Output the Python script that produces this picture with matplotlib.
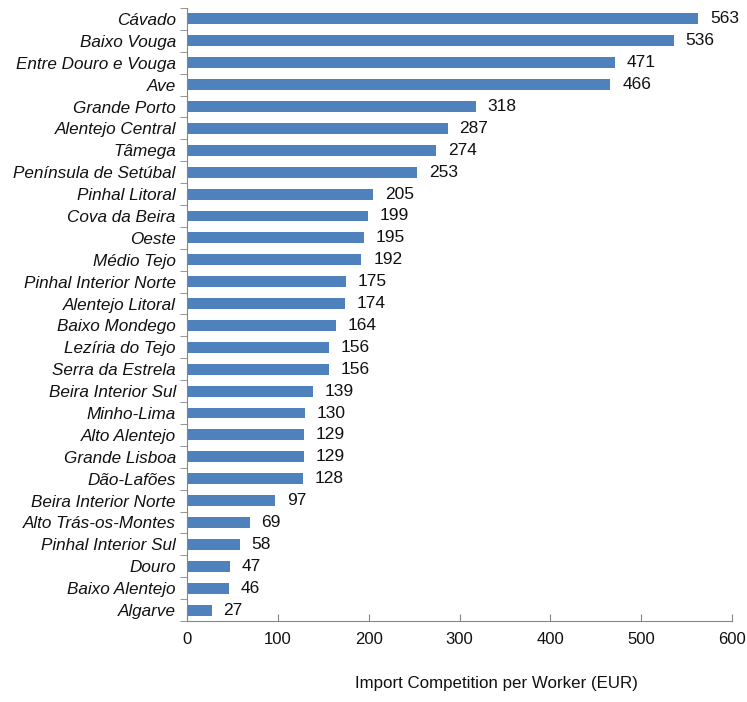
import matplotlib.pyplot as plt
import numpy as np

regions = ['Cávado', 'Baixo Vouga', 'Entre Douro e Vouga', 'Ave', 'Grande Porto',
           'Alentejo Central', 'Tâmega', 'Península de Setúbal', 'Pinhal Litoral',
           'Cova da Beira', 'Oeste', 'Médio Tejo', 'Pinhal Interior Norte',
           'Alentejo Litoral', 'Baixo Mondego', 'Lezíria do Tejo', 'Serra da Estrela',
           'Beira Interior Sul', 'Minho-Lima', 'Alto Alentejo', 'Grande Lisboa',
           'Dão-Lafões', 'Beira Interior Norte', 'Alto Trás-os-Montes',
           'Pinhal Interior Sul', 'Douro', 'Baixo Alentejo', 'Algarve']
values = [563, 536, 471, 466, 318, 287, 274, 253, 205, 199, 195, 192, 175, 174,
          164, 156, 156, 139, 130, 129, 129, 128, 97, 69, 58, 47, 46, 27]

plt.rcParams['font.family'] = ['Liberation Sans', 'DejaVu Sans']

fig = plt.figure(figsize=(7.47, 7.02), dpi=100)
ax = fig.add_axes([0.2503, 0.1154, 0.7297, 0.8732])

n = len(regions)
y = np.arange(n)[::-1]
ax.barh(y, values, height=0.5, color='#4F81BD')

# value labels just right of each bar
for yi, v in zip(y, values):
    ax.text(v + 13, yi, str(v), va='center', ha='left', fontsize=12.5, color='#111111')

ax.set_xlim(0, 600)
ax.set_ylim(-0.5, n - 0.5)
ax.set_xticks(np.arange(0, 601, 100))
ax.set_yticks(y)
ax.set_yticklabels(regions, fontsize=12.3, style='italic', color='#111111')
ax.set_yticks(np.arange(-0.5, n, 1), minor=True)
ax.tick_params(axis='y', which='major', length=0, pad=8)
ax.tick_params(axis='y', which='minor', length=5, color='#868686', direction='out')
ax.tick_params(axis='x', length=5, color='#868686', direction='in', labelsize=12,
               pad=8, labelcolor='#111111')

for side in ['top', 'right']:
    ax.spines[side].set_visible(False)
for side in ['left', 'bottom']:
    ax.spines[side].set_color('#868686')

fig.text(0.664, 0.015, 'Import Competition per Worker (EUR)', ha='center', va='bottom',
         fontsize=12.2, color='#111111')

fig.savefig('out.png', dpi=100)
